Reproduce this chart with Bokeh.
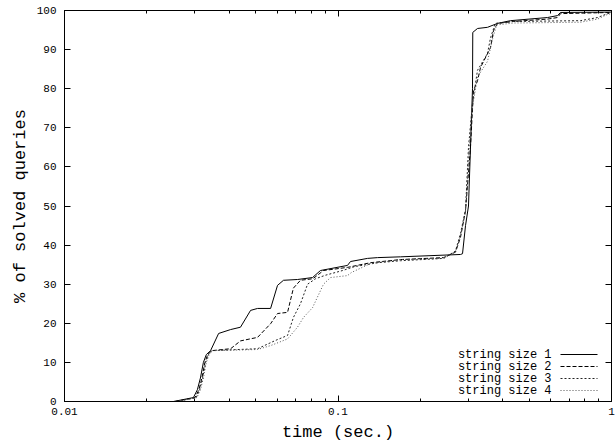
from bokeh.plotting import figure
from bokeh.models import (Range1d, FixedTicker, LinearAxis, LogAxis, Label, Arrow)
from bokeh.embed import file_html
from bokeh.resources import INLINE

# ---- data ----
x1 = [0.0250, 0.0296, 0.0306, 0.0314, 0.0322, 0.0330, 0.0342, 0.0366, 0.0405, 0.0440,
      0.0479, 0.0508, 0.0567, 0.0601, 0.0632, 0.0711, 0.0807, 0.0863, 0.1083, 0.1111,
      0.1282, 0.1395, 0.1692, 0.2805, 0.2853, 0.2926, 0.3000, 0.3103, 0.3110, 0.3236,
      0.3521, 0.3830, 0.4274, 0.5834, 0.6348, 0.6510, 1.0]
y1 = [0, 1, 3, 6, 10, 12, 13, 17.4, 18.4, 19,
      23.3, 23.8, 23.8, 29.7, 31, 31.2, 31.7, 33.5, 34.8, 35.8,
      36.6, 36.8, 37, 37.6, 37.8, 45, 50, 80, 94.4, 95.4,
      95.7, 96.7, 97.4, 98.2, 98.7, 99.5, 99.6]

x2 = [0.0254, 0.0300, 0.0310, 0.0318, 0.0326, 0.0334, 0.0345, 0.0405, 0.0440, 0.0508,
      0.0567, 0.0601, 0.0654, 0.0687, 0.0729, 0.0810, 0.0885, 0.1083, 0.1315, 0.1692,
      0.2431, 0.2689, 0.2805, 0.2926, 0.3050, 0.3129, 0.3236, 0.3319, 0.3611, 0.3704,
      0.3830, 0.4382, 0.5834, 0.6348, 0.6510, 1.0]
y2 = [0, 1, 3, 6, 10, 12, 13, 13.5, 15.5, 16.4,
      19.9, 22.5, 22.8, 29, 31, 31.4, 33.5, 34.3, 35.5, 36.3,
      36.8, 38.2, 42, 48.8, 65, 79.5, 82, 85.4, 90.5, 94.9,
      96.7, 97.2, 97.8, 98.2, 99.2, 99.5]

x3 = [0.0257, 0.0303, 0.0312, 0.0320, 0.0328, 0.0336, 0.0345, 0.0508, 0.0590, 0.0654,
      0.0687, 0.0729, 0.0774, 0.0828, 0.0900, 0.1040, 0.1150, 0.1400, 0.1692, 0.2431,
      0.2689, 0.2805, 0.2926, 0.3000, 0.3100, 0.3236, 0.3521, 0.3611, 0.3760, 0.4382,
      0.7703, 0.8887, 0.9670, 1.0]
y3 = [0, 1, 3, 6, 10, 12, 13, 13.5, 15.6, 16.9,
      21.5, 25, 30, 31.4, 32.3, 33.5, 34.5, 35.5, 36, 36.6,
      38.5, 43, 49, 65, 76, 84.7, 89, 93, 96.7, 97.2,
      97.4, 98.2, 99.2, 99.3]

x4 = [0.0260, 0.0305, 0.0314, 0.0322, 0.0330, 0.0338, 0.0348, 0.0508, 0.0567, 0.0654,
      0.0711, 0.0748, 0.0807, 0.0885, 0.0939, 0.1083, 0.1120, 0.1315, 0.1430, 0.1692,
      0.2431, 0.2689, 0.2805, 0.2926, 0.3000, 0.3080, 0.3236, 0.3521, 0.3650, 0.3800,
      0.4382, 0.7703, 0.8887, 0.9670, 1.0]
y4 = [0, 1, 3, 6, 10, 12, 13, 13.3, 14.3, 16,
      19, 21.5, 24, 30, 31.7, 32.2, 33, 35.3, 35.6, 36.3,
      36.6, 38.3, 42.5, 48.5, 62, 74, 83, 87, 92, 96.3,
      96.8, 97.0, 97.8, 99.0, 99.2]

series_names = ["string size 1", "string size 2", "string size 3", "string size 4"]
x_major = [0.01, 0.1, 1.0]
x_major_labels = ["0.01", "0.1", "1"]
x_minor = [0.02, 0.03, 0.04, 0.05, 0.06, 0.07, 0.08, 0.09,
           0.2, 0.3, 0.4, 0.5, 0.6, 0.7, 0.8, 0.9]
y_major = [0, 10, 20, 30, 40, 50, 60, 70, 80, 90, 100]

# ---- styles ----
FONT = "Liberation Mono"
dashes = ["solid", "4 2", "2 2", "1 2"]
colors = ["black", "black", "#222222", "#555555"]

p = figure(width=615, height=445, x_axis_type="log",
           x_range=Range1d(0.01, 1.0), y_range=Range1d(0, 100),
           output_backend="svg", toolbar_location=None,
           min_border_left=64, min_border_right=4, min_border_top=10, min_border_bottom=44)
p.grid.visible = False
p.outline_line_color = "black"
p.outline_line_width = 1
p.background_fill_color = "white"
p.border_fill_color = "white"

xs = [x1, x2, x3, x4]
ys = [y1, y2, y3, y4]
for xx, yy, d, c in zip(xs, ys, dashes, colors):
    p.line(xx, yy, line_color=c, line_width=1, line_dash=d)

def style_axis(ax, show_labels):
    ax.axis_line_color = "black"
    ax.major_tick_line_color = "black"
    ax.minor_tick_line_color = "black"
    ax.major_tick_in = 6
    ax.major_tick_out = 0
    ax.minor_tick_in = 3
    ax.minor_tick_out = 0
    if show_labels:
        ax.major_label_text_font = FONT
        ax.major_label_text_font_size = "11px"
        ax.major_label_text_color = "black"
        ax.axis_label_text_font = FONT
        ax.axis_label_text_font_size = "17px"
        ax.axis_label_text_font_style = "normal"
        ax.axis_label_text_color = "black"
    else:
        ax.major_label_text_font_size = "1px"
        ax.major_label_text_alpha = 0
        ax.major_label_standoff = 0

xt = FixedTicker(ticks=x_major, minor_ticks=x_minor)
yt = FixedTicker(ticks=y_major, minor_ticks=[])

xa = p.xaxis[0]
xa.ticker = xt
xa.major_label_overrides = {v: s for v, s in zip(x_major, x_major_labels)}
xa.axis_label = "time (sec.)"
style_axis(xa, True)
xa.major_label_standoff = 6
xa.axis_label_standoff = 5

ya = p.yaxis[0]
ya.ticker = yt
ya.axis_label = "% of solved queries"
style_axis(ya, True)
ya.major_label_standoff = 8
ya.axis_label_standoff = 4

top = LogAxis(ticker=xt)
style_axis(top, False)
p.add_layout(top, "above")
right = LinearAxis(ticker=yt)
style_axis(right, False)
p.add_layout(right, "right")

# ---- legend (gnuplot style: text then sample) ----
leg_text_x = 487
leg_line_x0 = 496
leg_line_x1 = 533
leg_rows_y = [47, 35, 23, 11]
for name, d, c, ry in zip(series_names, dashes, colors, leg_rows_y):
    p.add_layout(Label(x=leg_text_x, y=ry, x_units="screen", y_units="screen",
                       text=name, text_align="right", text_baseline="middle",
                       text_font=FONT, text_font_size="12px", text_color="black"))
    p.add_layout(Arrow(x_start=leg_line_x0, y_start=ry, x_end=leg_line_x1, y_end=ry,
                       start_units="screen", end_units="screen", end=None,
                       line_color=c, line_width=1, line_dash=d))

open("out.html", "w").write(file_html(p, INLINE))
